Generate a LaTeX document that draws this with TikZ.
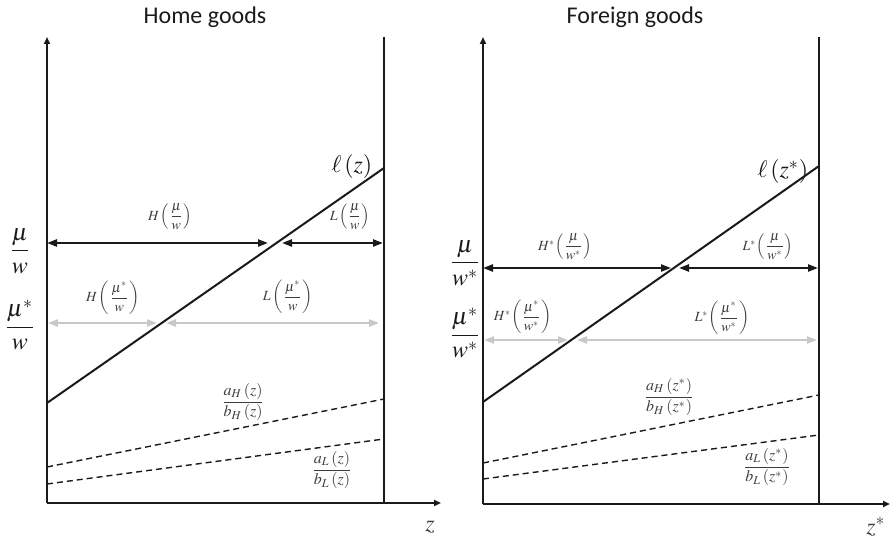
\documentclass[tikz,border=0pt]{standalone}
\usepackage{mathptmx}
\usepackage{amsmath}
\usepackage[no-math]{fontspec}
\setsansfont{Carlito}
\usetikzlibrary{arrows.meta,calc}
\definecolor{cink}{HTML}{1a1a1a}
\definecolor{cink2}{HTML}{3c3c3c}
\definecolor{cgray}{HTML}{c8c8c8}

\begin{document}
\begin{tikzpicture}[x=.5pt, y=-.5pt, every node/.style={inner sep=1pt, text=cink2},
    axis/.style={draw=cink, line width=1pt, -{Triangle[length=3.5pt,width=3pt]}},
    wall/.style={draw=cink, line width=1pt},
    costline/.style={draw=cink, line width=1pt},
    ratio/.style={draw=cink, line width=.7pt, dash pattern=on 3pt off 2pt},
    span/.style={line width=1.1pt, {Triangle[length=5pt,width=3.5pt]}-{Triangle[length=5pt,width=3.5pt]}},
    bspan/.style={span, draw=cink},
    gspan/.style={span, draw=cgray},
    title/.style={font=\sffamily\fontsize{12}{14}\selectfont, text=cink},
    lvl/.style={font=\large, text=cink},
    lbl/.style={font=\scriptsize},
    rlbl/.style={font=\footnotesize}]
      \useasboundingbox (0,0) rectangle (890,545);
      % home goods
      \node[title] (thome) at (205,17) {Home goods};
      \coordinate (o1) at (47,503);
      \coordinate (y1) at (47,37);
      \coordinate (x1) at (441,503);
      \coordinate (wt1) at (384,37);
      \coordinate (wb1) at (384,503);
      \draw[axis] (o1) -- (y1);
      \draw[axis] (o1) -- (x1);
      \draw[wall] (wt1) -- (wb1);
      \coordinate (ls1) at (47,403);
      \coordinate (le1) at (384,168);
      \draw[costline] (ls1) -- (le1);
      \draw[ratio] (47,467) coordinate (hs1) -- (384,399) coordinate (he1);
      \draw[ratio] (47,484) coordinate (ks1) -- (384,439) coordinate (ke1);
      \coordinate (ma1) at (47,243);
      \coordinate (mc1) at (275,243);
      \coordinate (mb1) at (383,243);
      \coordinate (na1) at (48,323);
      \coordinate (nc1) at (162,323);
      \coordinate (nb1) at (379,323);
      \draw[bspan, shorten >=3.5pt] (ma1) -- (mc1);
      \draw[bspan, shorten <=3.5pt] (mc1) -- (mb1);
      \draw[gspan, shorten >=2.5pt] (na1) -- (nc1);
      \draw[gspan, shorten <=2pt] (nc1) -- (nb1);
      \node[lvl] (mu1) at (20,251) {$\dfrac{\mu}{w}$};
      \node[lvl] (mus1) at (20,325) {$\dfrac{\mu^*}{w}$};
      \node[font=\large, text=cink] (ell1) at (352,167) {$\ell\left(z\right)$};
      \node[lbl] (h1) at (170,217) {$H\left(\dfrac{\mu}{w}\right)$};
      \node[lbl] (l1) at (350,217) {$L\left(\dfrac{\mu}{w}\right)$};
      \node[lbl] (hs1) at (113,298) {$H\left(\dfrac{\mu^*}{w}\right)$};
      \node[lbl] (lst1) at (288,297) {$L\left(\dfrac{\mu^*}{w}\right)$};
      \node[rlbl] (rh1) at (243,402) {$\dfrac{a_H\left(z\right)}{b_H\left(z\right)}$};
      \node[rlbl] (rl1) at (332,470) {$\dfrac{a_L\left(z\right)}{b_L\left(z\right)}$};
      \node[font=\large] (z1) at (430,527) {$z$};
      % foreign goods
      \node[title] (tfor) at (635,17) {Foreign goods};
      \coordinate (o2) at (483,504);
      \coordinate (y2) at (483,37);
      \coordinate (x2) at (890,504);
      \coordinate (wt2) at (819,37);
      \coordinate (wb2) at (819,504);
      \draw[axis] (o2) -- (y2);
      \draw[axis] (o2) -- (x2);
      \draw[wall] (wt2) -- (wb2);
      \coordinate (ls2) at (483,402);
      \coordinate (le2) at (819,166);
      \draw[costline] (ls2) -- (le2);
      \draw[ratio] (483,463) coordinate (hs2) -- (819,395) coordinate (he2);
      \draw[ratio] (483,479) coordinate (ks2) -- (819,435) coordinate (ke2);
      \coordinate (ma2) at (483,268);
      \coordinate (mc2) at (675,268);
      \coordinate (mb2) at (818,268);
      \coordinate (na2) at (484,340);
      \coordinate (nc2) at (572,340);
      \coordinate (nb2) at (817,340);
      \draw[bspan, shorten >=2pt] (ma2) -- (mc2);
      \draw[bspan, shorten <=2pt] (mc2) -- (mb2);
      \draw[gspan, shorten >=2pt] (na2) -- (nc2);
      \draw[gspan, shorten <=2.5pt] (nc2) -- (nb2);
      \node[lvl] (mu2) at (465,263) {$\dfrac{\mu}{w^*}$};
      \node[lvl] (mus2) at (465,333) {$\dfrac{\mu^*}{w^*}$};
      \node[font=\large, text=cink] (ell2) at (783,172) {$\ell\left(z^*\right)$};
      \node[lbl] (h2) at (565,247) {$H^*\!\left(\dfrac{\mu}{w^*}\right)$};
      \node[lbl] (l2) at (768,247) {$L^*\!\left(\dfrac{\mu}{w^*}\right)$};
      \node[lbl] (hs2) at (523,317) {$H^*\!\left(\dfrac{\mu^*}{w^*}\right)$};
      \node[lbl] (lst2) at (722,318) {$L^*\!\left(\dfrac{\mu^*}{w^*}\right)$};
      \node[rlbl] (rh2) at (669,397) {$\dfrac{a_H\left(z^*\right)}{b_H\left(z^*\right)}$};
      \node[rlbl] (rl2) at (767,467) {$\dfrac{a_L\left(z^*\right)}{b_L\left(z^*\right)}$};
      \node[font=\large] (z2) at (876,527) {$z^*$};
    \end{tikzpicture}
\end{document}
